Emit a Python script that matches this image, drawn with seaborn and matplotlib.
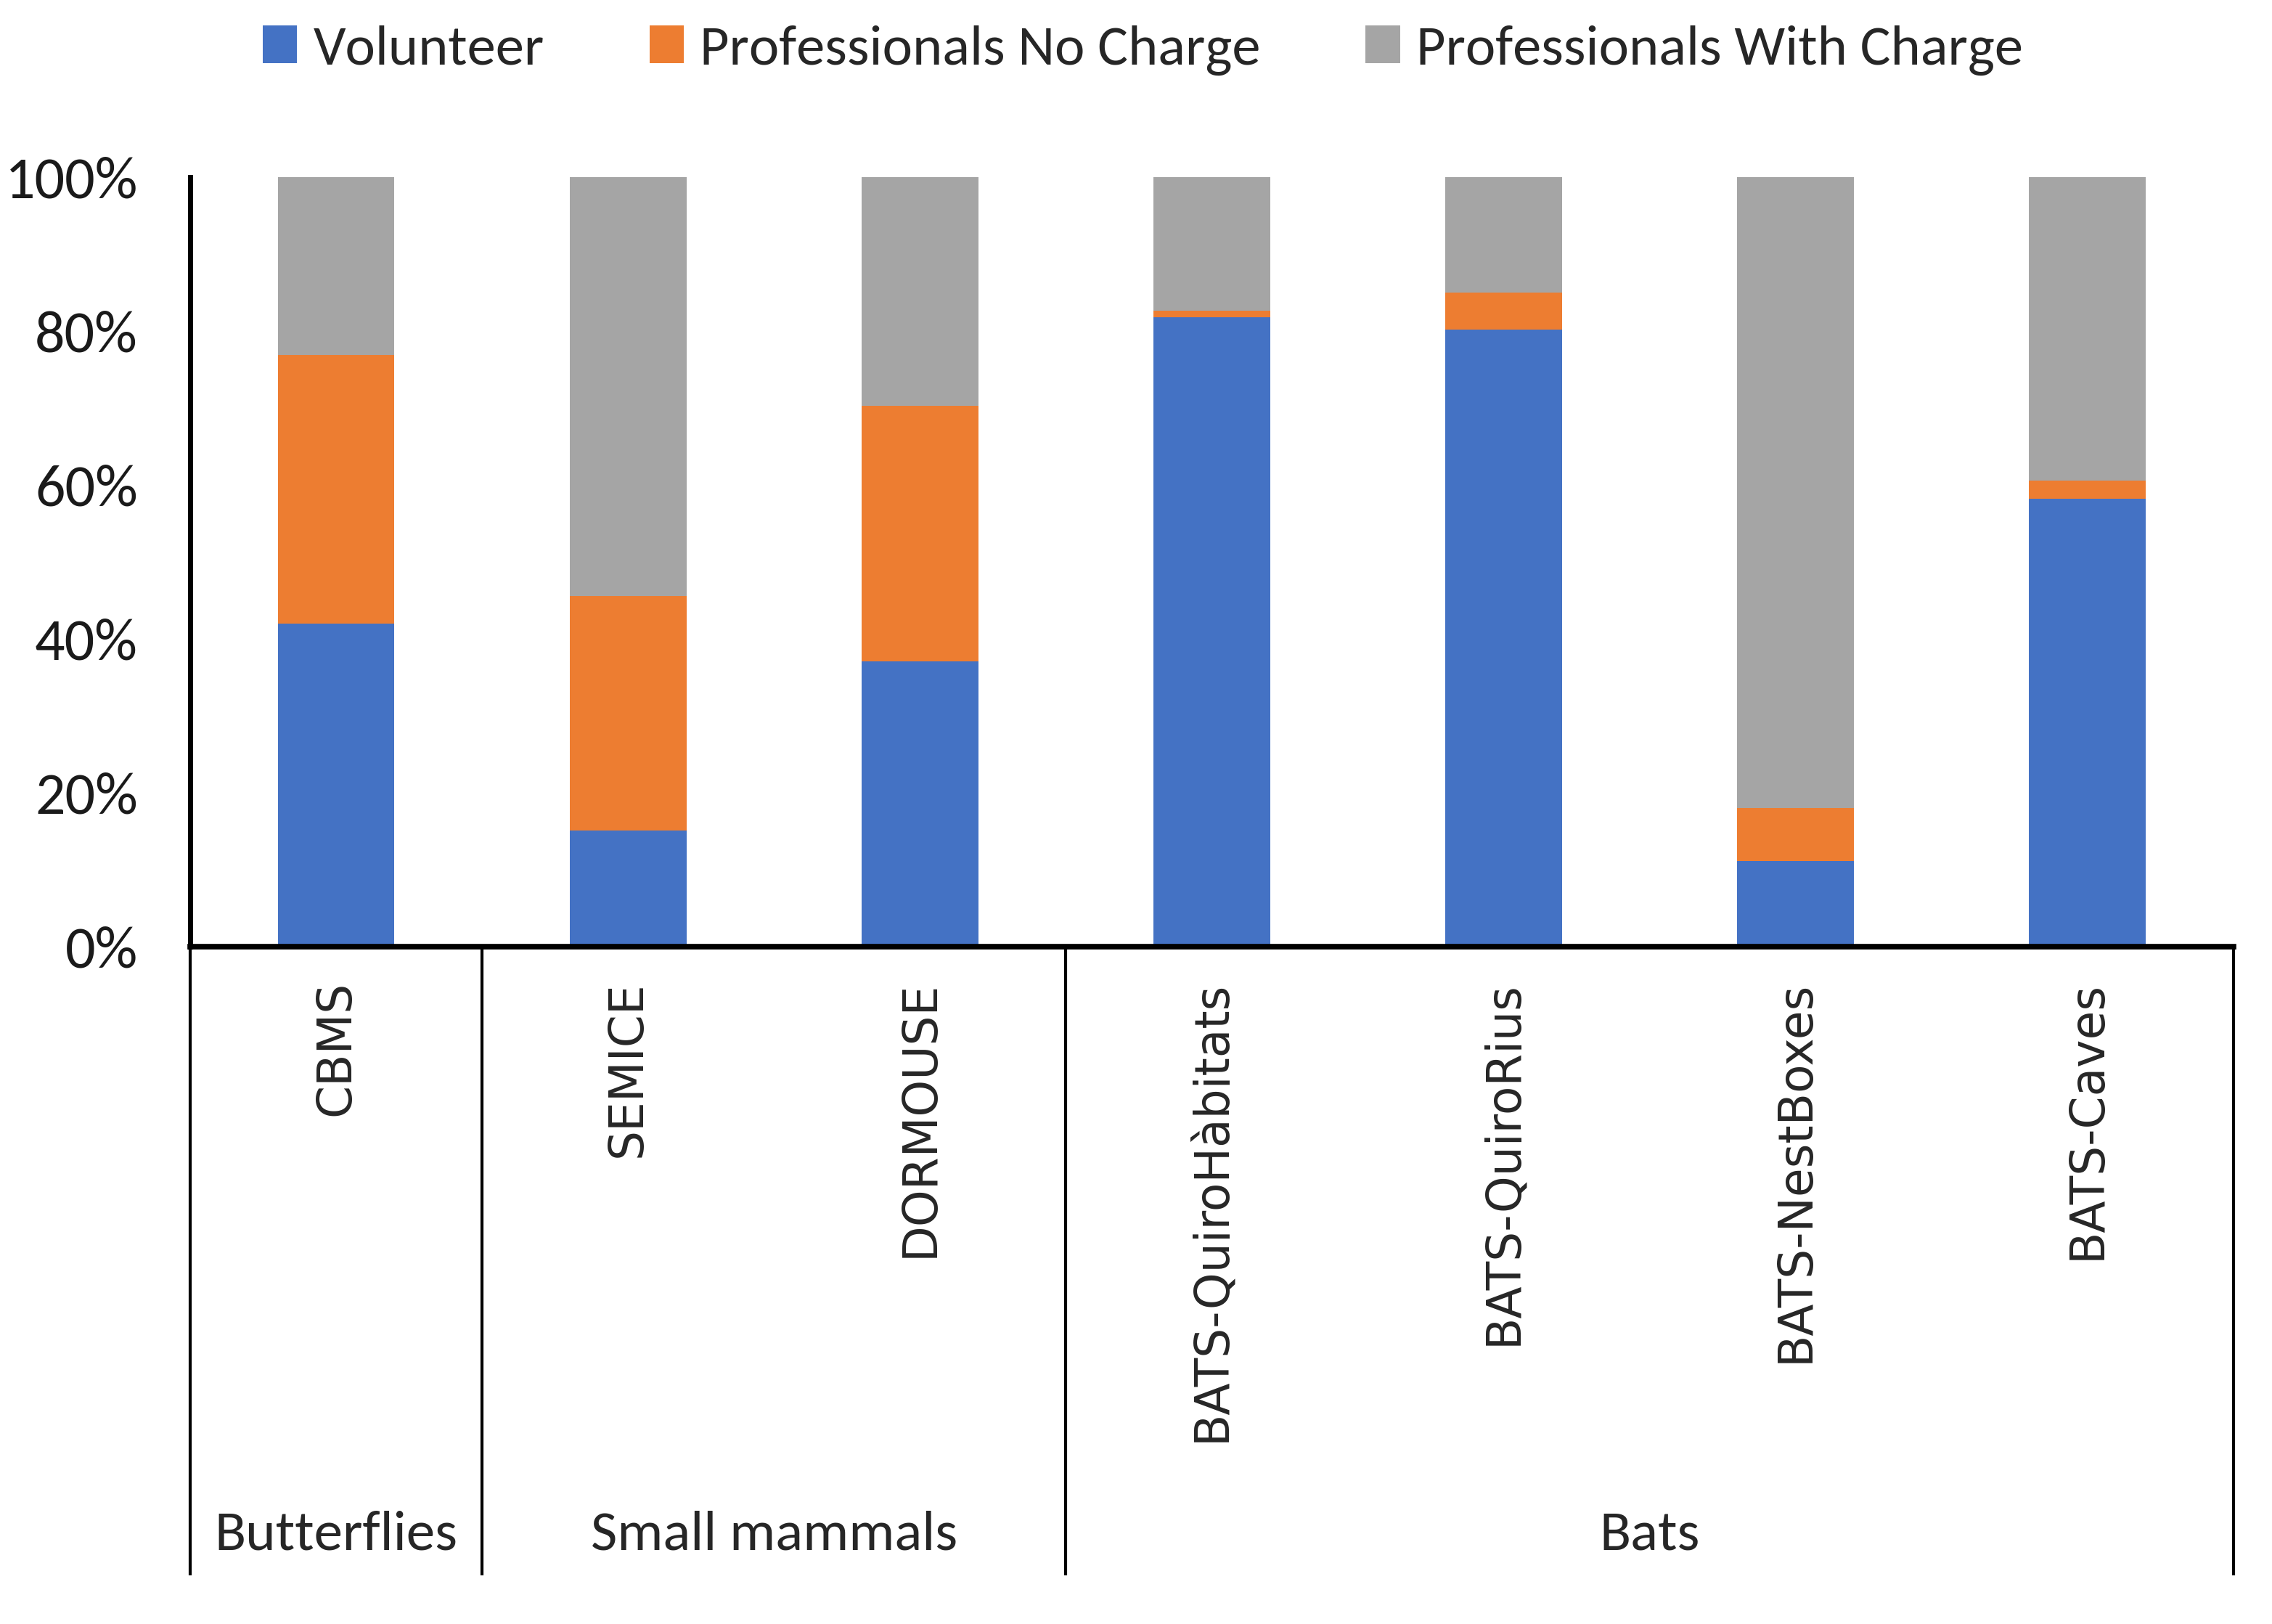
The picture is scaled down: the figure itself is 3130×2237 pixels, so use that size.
import numpy as np
import pandas as pd
import matplotlib
matplotlib.use('Agg')
import matplotlib.pyplot as plt
import matplotlib.transforms as mtransforms
from matplotlib.patches import Patch
import seaborn as sns

# --- data (share of each survey, %) ---
surveys = ['CBMS', 'SEMICE', 'DORMOUSE', 'BATS-QuiroHàbitats',
           'BATS-QuiroRius', 'BATS-NestBoxes', 'BATS-Caves']
volunteer = [42.0, 15.1, 37.1, 81.8, 80.2, 11.1, 58.2]
prof_no_charge = [34.9, 30.5, 33.2, 0.8, 4.8, 6.9, 2.4]
prof_with_charge = [23.1, 54.4, 29.7, 17.4, 15.0, 82.0, 39.4]
groups = ['Butterflies', 'Small mammals', 'Bats']
group_sizes = [1, 2, 4]

series_names = ['Volunteer', 'Professionals No Charge', 'Professionals With Charge']
colors = ['#4472C4', '#ED7D31', '#A5A5A5']

sns.set_style('white')
plt.rcParams['font.family'] = ['Carlito', 'Liberation Sans Narrow', 'Open Sans', 'DejaVu Sans']

df = pd.DataFrame({'survey': surveys, 'vol': volunteer,
                   'pnc': prof_no_charge, 'pwc': prof_with_charge})
df['top_vol'] = df['vol']
df['top_pnc'] = df['vol'] + df['pnc']
df['top_pwc'] = df['top_pnc'] + df['pwc']

fig = plt.figure(figsize=(31.3, 22.37), dpi=100)
ax = fig.add_axes([0.0837, 0.417, 0.8993, 0.474])

# stacked bars: draw tallest first, then overlay
for col, c in zip(['top_pwc', 'top_pnc', 'top_vol'], colors[::-1]):
    sns.barplot(data=df, x='survey', y=col, color=c, width=0.4,
                saturation=1, ax=ax, linewidth=0, order=surveys)

ax.set_xlim(-0.5, len(surveys) - 0.5)
ax.set_ylim(0, 100)
ax.set_yticks(np.arange(0, 101, 20))
ax.set_yticklabels([f'{v}%' for v in range(0, 101, 20)], fontsize=59)
ax.set_xticks([])
ax.set_xlabel('')
ax.set_ylabel('')
ax.tick_params(axis='y', direction='in', length=18, width=5, pad=52, colors='black')
ax.tick_params(axis='y', labelcolor='#1a1a1a')
for s in ['top', 'right']:
    ax.spines[s].set_visible(False)
ax.spines['left'].set_linewidth(5)
ax.spines['bottom'].set_linewidth(5.5)
ax.spines['left'].set_color('black')
ax.spines['bottom'].set_color('black')

# grouped category axis below the plot
trans = mtransforms.blended_transform_factory(ax.transData, ax.transAxes)
for i, name in enumerate(surveys):
    ax.text(i, -0.044, name, rotation=90, ha='center', va='top',
            fontsize=46.5, family='DejaVu Sans', transform=trans)

bounds = np.concatenate([[0], np.cumsum(group_sizes)]) - 0.5
for b in bounds:
    ax.plot([b, b], [0, -0.817], transform=trans, color='black',
            lw=3, clip_on=False, solid_capstyle='butt')
for g, lo, hi in zip(groups, bounds[:-1], bounds[1:]):
    ax.text((lo + hi) / 2, -0.764, g, ha='center', va='center',
            fontsize=57, transform=trans)

handles = [Patch(facecolor=c, edgecolor='none') for c in colors]
fig.legend(handles, series_names, loc='center', bbox_to_anchor=(0.503, 0.969),
           ncol=3, frameon=False, fontsize=56.5, handlelength=0.6,
           handleheight=0.65, handletextpad=0.28, columnspacing=1.85)

fig.savefig('out.png', dpi=100)
